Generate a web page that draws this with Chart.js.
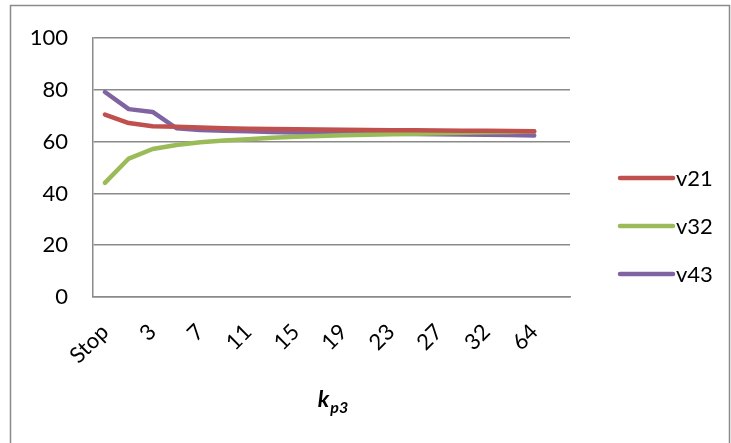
<!DOCTYPE html>
<html>
<head>
<meta charset="utf-8">
<script src="https://cdn.jsdelivr.net/npm/chart.js@4/dist/chart.umd.min.js"></script>
<style>
  html, body { margin: 0; padding: 0; background: #fff; }
  #wrap { width: 731px; height: 443px; }
</style>
</head>
<body>
<div id="wrap"><canvas id="c" width="731" height="443"></canvas></div>
<script>
// Categories along the k_p3 axis (every other one is labelled)
const categories = ['Stop', '1', '3', '5', '7', '9', '11', '13', '15', '17', '19', '21', '23', '25', '27', '30', '32', '48', '64', ''];
const yTicks = [0, 20, 40, 60, 80, 100];

const v21 = [70.5, 67.2, 66.0, 65.8, 65.5, 65.2, 65.0, 64.9, 64.8, 64.7, 64.6, 64.5, 64.4, 64.4, 64.3, 64.2, 64.2, 64.1, 64.0, null];
const v32 = [44.1, 53.5, 57.2, 58.7, 59.8, 60.5, 61.0, 61.5, 61.9, 62.2, 62.5, 62.7, 62.9, 63.1, 63.3, 63.5, 63.7, 63.8, 64.0, null];
const v43 = [79.2, 72.6, 71.5, 65.2, 64.5, 64.2, 64.0, 63.8, 63.6, 63.5, 63.3, 63.2, 63.1, 63.0, 62.9, 62.8, 62.7, 62.6, 62.4, null];

const seriesNames = ['v21', 'v32', 'v43'];
const seriesColors = ['#C0504D', '#9BBB59', '#8064A2'];
const seriesValues = [v21, v32, v43];

const FONT = 'Lato, "Open Sans", sans-serif';
const GRID = '#8a8a8a';

// Outer frame around the whole chart
const framePlugin = {
  id: 'frame',
  beforeDraw(chart) {
    const ctx = chart.ctx;
    ctx.save();
    ctx.fillStyle = '#fff';
    ctx.fillRect(0, 0, chart.width, chart.height);
    ctx.strokeStyle = GRID;
    ctx.lineWidth = 1.5;
    ctx.strokeRect(10.5, 5.5, 719, 460);
    ctx.restore();
  }
};

// Axis title with subscript: k_p3
const axisTitlePlugin = {
  id: 'axisTitle',
  afterDraw(chart) {
    const ctx = chart.ctx;
    const a = chart.chartArea;
    const cx = (a.left + a.right) / 2 + 1;
    const base = 407;
    ctx.save();
    ctx.fillStyle = '#000';
    ctx.textBaseline = 'alphabetic';
    ctx.textAlign = 'left';
    const big = 'italic bold 23px ' + FONT;
    const small = 'italic bold 16px ' + FONT;
    ctx.font = big;
    const wK = ctx.measureText('k').width;
    ctx.font = small;
    const wS = ctx.measureText('p3').width;
    const x0 = cx - (wK + wS) / 2;
    ctx.font = big;
    ctx.fillText('k', x0, base);
    ctx.font = small;
    ctx.fillText('p3', x0 + wK + 1, base + 6);
    ctx.restore();
  }
};

// Legend on the right
const legendPlugin = {
  id: 'sideLegend',
  afterDraw(chart) {
    const ctx = chart.ctx;
    ctx.save();
    ctx.font = '22px ' + FONT;
    ctx.fillStyle = '#000';
    ctx.textBaseline = 'middle';
    ctx.textAlign = 'left';
    chart.data.datasets.forEach((ds, i) => {
      const y = 178 + i * 48;
      ctx.strokeStyle = ds.borderColor;
      ctx.lineWidth = 4.5;
      ctx.lineCap = 'round';
      ctx.beginPath();
      ctx.moveTo(620, y);
      ctx.lineTo(673, y);
      ctx.stroke();
      ctx.fillText(ds.label, 676, y + 1);
    });
    ctx.restore();
  }
};

new Chart(document.getElementById('c'), {
  type: 'line',
  data: {
    labels: categories,
    datasets: seriesNames.map((name, i) => ({
      label: name,
      data: seriesValues[i],
      borderColor: seriesColors[i],
      backgroundColor: seriesColors[i],
      borderWidth: 4.5,
      pointRadius: 0,
      tension: 0,
      borderJoinStyle: 'round',
      borderCapStyle: 'round',
      fill: false
    }))
  },
  options: {
    responsive: false,
    animation: false,
    events: [],
    layout: { padding: { left: 0, top: 33, right: 161, bottom: 0 } },
    plugins: { legend: { display: false }, tooltip: { enabled: false } },
    scales: {
      x: {
        offset: true,
        grid: { display: false, drawTicks: false },
        border: { display: true, color: GRID, width: 1.5 },
        afterFit(scale) { scale.height = 146; },
        ticks: {
          autoSkip: false,
          maxRotation: 45,
          minRotation: 45,
          padding: 22,
          color: '#000',
          font: { family: FONT, size: 22 },
          callback(value, index) { return index % 2 === 0 ? categories[index] : ''; }
        }
      },
      y: {
        min: 0,
        max: 100,
        afterBuildTicks(scale) { scale.ticks = yTicks.map(v => ({ value: v })); },
        afterFit(scale) { scale.width = 93; },
        grid: { color: GRID, lineWidth: 1.5, drawTicks: false },
        border: { display: true, color: GRID, width: 1.5 },
        ticks: {
          padding: 25,
          color: '#000',
          font: { family: FONT, size: 22 }
        }
      }
    }
  },
  plugins: [framePlugin, axisTitlePlugin, legendPlugin]
});
</script>
</body>
</html>
